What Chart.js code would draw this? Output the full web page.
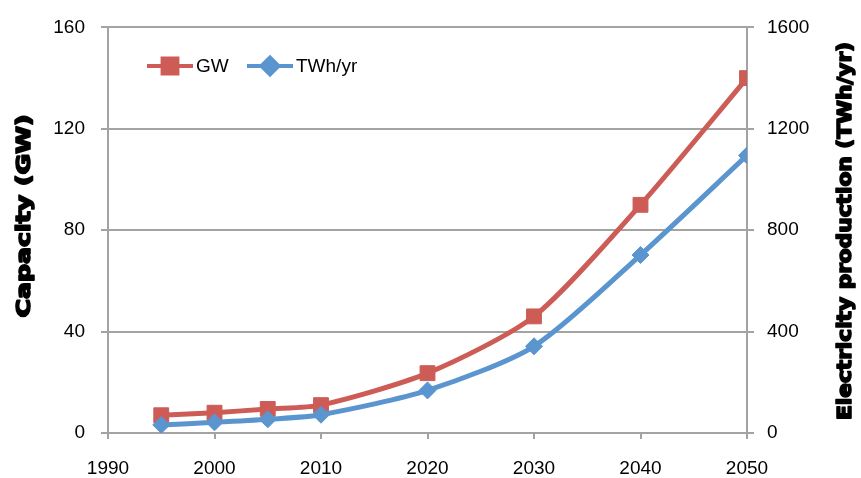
<!DOCTYPE html>
<html lang="en"><head><meta charset="UTF-8"><title>Capacity and electricity production</title>
<style>
  html,body{margin:0;background:#fff;}
  .wrap{width:861px;height:478px;position:relative;}
</style>
<script src="https://cdn.jsdelivr.net/npm/chart.js"></script>
</head><body>
<div class="wrap"><canvas id="c" width="861" height="478"></canvas></div>
<script>
  // data
  const years     = [1995, 2000, 2005, 2010, 2020, 2030, 2040, 2050];
  const gwValues  = [7, 8, 9.5, 11, 23.6, 46, 90, 140];
  const twhValues = [32, 42, 54, 72, 168, 342, 702, 1095];
  const xTicks    = [1990, 2000, 2010, 2020, 2030, 2040, 2050];
  const gwTicks   = [0, 40, 80, 120, 160];
  const twhTicks  = [0, 400, 800, 1200, 1600];

  const RED  = '#CD5C56';
  const BLUE = '#5A95CF';
  const GRID = '#A3A3A3';
  const FONT = '"Liberation Sans", Arial, sans-serif';
  const plain = v => String(v);

  // axis titles + legend drawn in plot, Excel style
  const extras = {
    id: 'extras',
    afterDraw(chart) {
      const ctx = chart.ctx;
      ctx.save();
      function vtitle(text, cx, cy, len) {
        ctx.save();
        ctx.translate(cx, cy);
        ctx.rotate(-Math.PI / 2);
        ctx.font = 'bold 19px "DejaVu Sans", sans-serif';
        const w = ctx.measureText(text).width;
        ctx.scale(len / w, 1);
        ctx.fillStyle = '#000';
        ctx.strokeStyle = '#000';
        ctx.lineWidth = 1.6;
        ctx.lineJoin = 'round';
        ctx.textAlign = 'center';
        ctx.textBaseline = 'middle';
        ctx.fillText(text, 0, 0);
        ctx.strokeText(text, 0, 0);
        ctx.restore();
      }
      vtitle('Capacity (GW)', 25, 216, 203);
      vtitle('Electricity production (TWh/yr)', 846, 231, 378);

      // legend
      const items = [
        { x: 147, label: 'GW', color: RED, style: 'rect', r: 10.5 },
        { x: 247, label: 'TWh/yr', color: BLUE, style: 'rectRot', r: 8.5 }
      ];
      const ly = 66;
      for (const it of items) {
        ctx.strokeStyle = it.color;
        ctx.lineWidth = 4;
        ctx.beginPath();
        ctx.moveTo(it.x, ly);
        ctx.lineTo(it.x + 46, ly);
        ctx.stroke();
        ctx.fillStyle = it.color;
        Chart.helpers.drawPoint(ctx, { pointStyle: it.style, radius: it.r, borderWidth: 1 }, it.x + 23, ly);
        ctx.fill();
        ctx.fillStyle = '#000';
        ctx.font = '19px ' + FONT;
        ctx.textAlign = 'left';
        ctx.textBaseline = 'middle';
        ctx.fillText(it.label, it.x + 49, ly + 1);
      }
      ctx.restore();
    }
  };

  new Chart(document.getElementById('c'), {
    type: 'line',
    data: {
      datasets: [
        {
          label: 'GW',
          data: years.map((y, i) => ({ x: y, y: gwValues[i] })),
          yAxisID: 'y',
          borderColor: RED,
          backgroundColor: RED,
          borderWidth: 5,
          pointStyle: 'rect',
          pointRadius: 10.5,
          pointBorderWidth: 1,
          tension: 0.25,
          order: 1
        },
        {
          label: 'TWh/yr',
          data: years.map((y, i) => ({ x: y, y: twhValues[i] })),
          yAxisID: 'y2',
          borderColor: BLUE,
          backgroundColor: BLUE,
          borderWidth: 5,
          pointStyle: 'rectRot',
          pointRadius: 8.5,
          pointBorderWidth: 1,
          tension: 0.25,
          order: 0
        }
      ]
    },
    options: {
      responsive: false,
      animation: false,
      layout: { padding: { top: 24, left: 0, right: 0, bottom: 0 } },
      plugins: { legend: { display: false }, tooltip: { enabled: false } },
      scales: {
        x: {
          type: 'linear', min: 1990, max: 2050,
          afterBuildTicks: s => { s.ticks = xTicks.map(v => ({ value: v })); },
          afterFit: s => { s.height = 45; },
          grid: { drawOnChartArea: false, color: GRID, lineWidth: 2, tickLength: 6 },
          border: { color: GRID, width: 2 },
          ticks: { color: '#000', font: { family: FONT, size: 19 }, padding: 18, maxRotation: 0, callback: plain }
        },
        y: {
          position: 'left', min: 0, max: 160,
          afterBuildTicks: s => { s.ticks = gwTicks.map(v => ({ value: v })); },
          afterFit: s => { s.width = 108; },
          grid: { color: GRID, lineWidth: 2, tickLength: 7 },
          border: { color: GRID, width: 2 },
          ticks: { color: '#000', font: { family: FONT, size: 19 }, padding: 16, callback: plain }
        },
        y2: {
          position: 'right', min: 0, max: 1600,
          afterBuildTicks: s => { s.ticks = twhTicks.map(v => ({ value: v })); },
          afterFit: s => { s.width = 114; },
          grid: { drawOnChartArea: false, color: GRID, lineWidth: 2, tickLength: 7 },
          border: { color: GRID, width: 2 },
          ticks: { color: '#000', font: { family: FONT, size: 19 }, padding: 13, callback: plain }
        }
      }
    },
    plugins: [extras]
  });
</script>
</body></html>
